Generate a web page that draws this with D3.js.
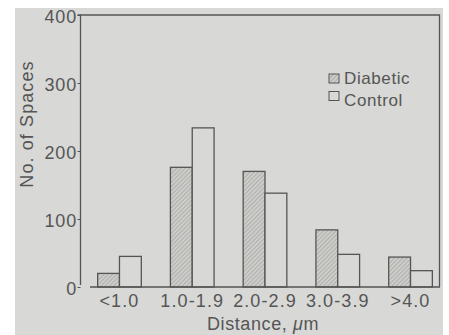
<!DOCTYPE html>
<html>
<head>
<meta charset="utf-8">
<script src="https://d3js.org/d3.v7.min.js"></script>
<style>
  body { margin: 0; background: #fff; }
  svg { display: block; font-family: "Liberation Sans", Arial, sans-serif; }
</style>
</head>
<body>
<svg width="449" height="335"></svg>
<script>
// data
var categories = ["<1.0", "1.0-1.9", "2.0-2.9", "3.0-3.9", ">4.0"];
var diabetic = [20, 176, 170, 84, 44];
var control = [45, 234, 138, 48, 24];
var yTicks = [0, 100, 200, 300, 400];
var seriesNames = ["Diabetic", "Control"];

var ink = "#555555";
var bg = "#d8d8d6";

var svg = d3.select("svg");

svg.append("rect")
  .attr("x", 15).attr("y", 8)
  .attr("width", 428).attr("height", 327)
  .attr("fill", bg);

var defs = svg.append("defs");
var pat = defs.append("pattern")
  .attr("id", "hatch")
  .attr("patternUnits", "userSpaceOnUse")
  .attr("width", 3).attr("height", 3)
  .attr("patternTransform", "rotate(45)");
pat.append("rect").attr("width", 3).attr("height", 3).attr("fill", "#cdcdca");
pat.append("line")
  .attr("x1", 0).attr("y1", 0).attr("x2", 0).attr("y2", 3)
  .attr("stroke", "#929290").attr("stroke-width", 1);

var x = d3.scaleBand()
  .domain(categories)
  .range([83.1, 446.9])
  .paddingInner(0.4)
  .paddingOuter(0.2);

var sub = d3.scaleBand()
  .domain(seriesNames)
  .range([0, x.bandwidth()]);

var y = d3.scaleLinear().domain([0, 400]).range([287, 15]);

// frame: top and right lines
svg.append("path")
  .attr("d", "M80.5," + y(400) + "H439.5V" + y(0))
  .attr("fill", "none").attr("stroke", ink).attr("stroke-width", 1.3);

// bars
var rows = categories.map(function(c, i) {
  return { cat: c, vals: [diabetic[i], control[i]] };
});

var groups = svg.selectAll(".grp")
  .data(rows)
  .enter().append("g")
  .attr("class", "grp")
  .attr("transform", function(d) { return "translate(" + x(d.cat) + ",0)"; });

groups.selectAll("rect")
  .data(function(d) {
    return d.vals.map(function(v, j) { return { s: seriesNames[j], v: v }; });
  })
  .enter().append("rect")
  .attr("x", function(d) { return sub(d.s); })
  .attr("y", function(d) { return y(d.v); })
  .attr("width", sub.bandwidth())
  .attr("height", function(d) { return y(0) - y(d.v); })
  .attr("fill", function(d) { return d.s === "Diabetic" ? "url(#hatch)" : bg; })
  .attr("stroke", ink)
  .attr("stroke-width", 1.3);

// y axis
var yAxis = svg.append("g")
  .attr("transform", "translate(80.5,0)")
  .call(d3.axisLeft(y).tickValues(yTicks).tickSize(3).tickPadding(0.5));
yAxis.select(".domain").attr("stroke", ink).attr("stroke-width", 1.3)
  .attr("d", "M-3," + y(400) + "H0V" + (y(0) - 2));
yAxis.selectAll(".tick line").attr("stroke", ink);
yAxis.selectAll(".tick text")
  .attr("fill", ink)
  .attr("font-size", 18)
  .attr("letter-spacing", 0.8)
  .attr("dy", "0.42em")
  .attr("font-family", "Liberation Sans, Arial, sans-serif");

// x axis
var xAxis = svg.append("g")
  .attr("transform", "translate(0," + y(0) + ")")
  .call(d3.axisBottom(x).tickSize(0).tickPadding(7));
xAxis.select(".domain").attr("stroke", ink).attr("stroke-width", 1.3)
  .attr("d", "M90,0H440");
xAxis.selectAll(".tick text")
  .attr("fill", ink)
  .attr("font-size", 18)
  .attr("letter-spacing", 1.1)
  .attr("font-family", "Liberation Sans, Arial, sans-serif");

// axis titles
svg.append("text")
  .attr("transform", "translate(33,124) rotate(-90)")
  .attr("text-anchor", "middle")
  .attr("font-size", 18)
  .attr("letter-spacing", 1.1)
  .attr("fill", ink)
  .text("No. of Spaces");

var xt = svg.append("text")
  .attr("x", 263).attr("y", 330)
  .attr("text-anchor", "middle")
  .attr("font-size", 18)
  .attr("letter-spacing", 0.6)
  .attr("fill", ink);
xt.append("tspan").text("Distance, ");
xt.append("tspan").attr("font-style", "italic").text("\u03bc");
xt.append("tspan").text("m");

// legend
var legend = svg.selectAll(".leg")
  .data(seriesNames)
  .enter().append("g")
  .attr("class", "leg")
  .attr("transform", function(d, i) { return "translate(329," + (74 + i * 17.5) + ")"; });
legend.append("rect")
  .attr("width", 10).attr("height", 9)
  .attr("fill", function(d) { return d === "Diabetic" ? "url(#hatch)" : bg; })
  .attr("stroke", ink).attr("stroke-width", 1);
legend.append("text")
  .attr("x", 15)
  .attr("y", function(d, i) { return i === 0 ? 9.5 : 14.5; })
  .attr("font-size", 17)
  .attr("letter-spacing", 0.6)
  .attr("fill", ink)
  .text(function(d) { return d; });
</script>
</body>
</html>
